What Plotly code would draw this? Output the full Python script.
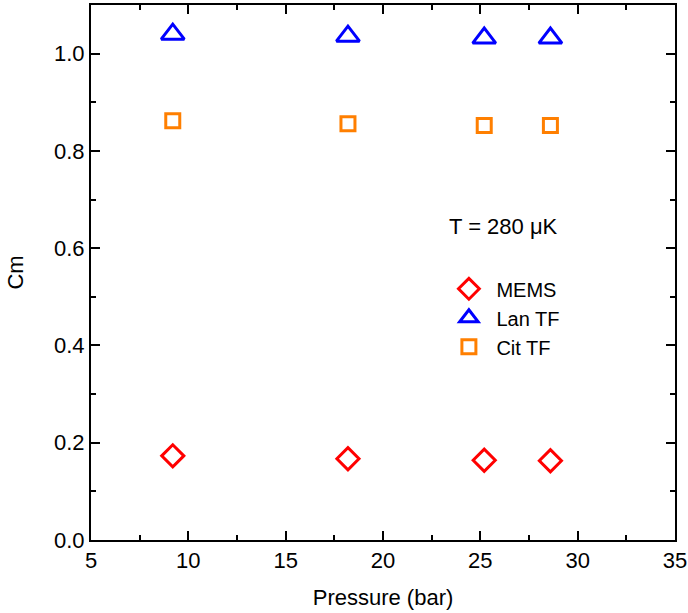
import plotly.graph_objects as go

pressure = [9.2, 18.2, 25.2, 28.6]
mems = [0.173, 0.167, 0.164, 0.163]
lan_tf = [1.040, 1.036, 1.032, 1.032]
cit_tf = [0.862, 0.856, 0.852, 0.852]

series_names = ["MEMS", "Lan TF", "Cit TF"]
series_colors = ["#ff0000", "#0000ff", "#ff7f00"]
series_symbols = ["diamond-open", "triangle-up-open", "square-open"]
series_sizes = [17, 20, 14]

FONT = "Liberation Sans, Arial, sans-serif"

fig = go.Figure()
for name, vals, col, sym, sz in zip(series_names, [mems, lan_tf, cit_tf],
                                     series_colors, series_symbols, series_sizes):
    fig.add_trace(go.Scatter(
        x=pressure, y=vals, mode="markers", name=name,
        marker=dict(symbol=sym, size=sz, color=col, line=dict(width=3, color=col)),
    ))

axis_common = dict(
    showline=True, linecolor="black", linewidth=2, mirror="allticks",
    ticks="inside", ticklen=9, tickwidth=1.5, tickcolor="black",
    showgrid=False, zeroline=False, automargin=False,
    tickfont=dict(family=FONT, size=22, color="black"),
)

fig.update_xaxes(range=[5, 35], dtick=5, tick0=5,
                 title=dict(text="Pressure (bar)", font=dict(family=FONT, size=22, color="black"), standoff=17),
                 minor=dict(dtick=2.5, ticks="inside", ticklen=5, tickwidth=1.5, tickcolor="black"),
                 **axis_common)
fig.update_yaxes(range=[0, 1.1], dtick=0.2, tick0=0, tickformat=".1f",
                 title=dict(text="Cm", font=dict(family=FONT, size=22, color="black"), standoff=24),
                 minor=dict(dtick=0.1, ticks="inside", ticklen=5, tickwidth=1.5, tickcolor="black"),
                 **axis_common)

fig.add_annotation(x=26.2, y=0.645, xref="x", yref="y", text="T = 280 μK",
                   showarrow=False, font=dict(family=FONT, size=22, color="black"))

fig.update_layout(
    width=688, height=613,
    margin=dict(l=91, r=13, t=5, b=73),
    plot_bgcolor="white", paper_bgcolor="white",
    font=dict(family=FONT, size=20, color="black"),
    legend=dict(x=0.6, y=0.506, xanchor="left", yanchor="top",
                bgcolor="rgba(0,0,0,0)", font=dict(family=FONT, size=20, color="black"),
                tracegroupgap=0, itemwidth=45),
    showlegend=True,
)

fig.write_html("out.html", config={"displayModeBar": False},
               post_script="document.body.style.margin='0';document.body.style.overflow='hidden';")
